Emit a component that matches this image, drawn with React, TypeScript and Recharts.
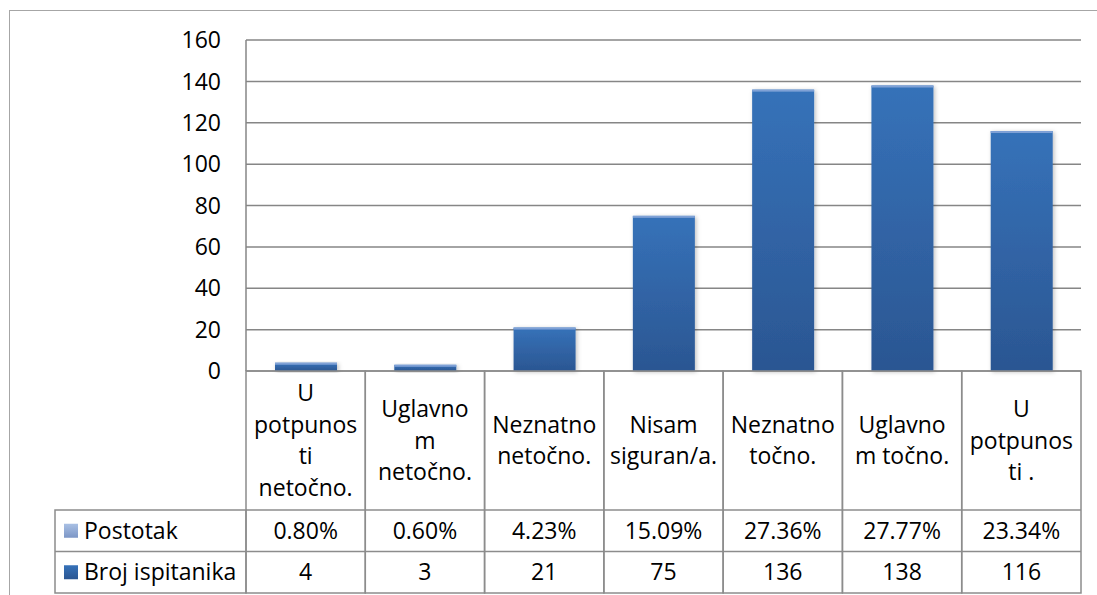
import { BarChart, Bar, XAxis, YAxis, CartesianGrid } from 'recharts'

// category labels, wrapped the way the data table shows them
const categories = [
  'U\npotpunos\nti\nnetočno.',
  'Uglavno\nm\nnetočno.',
  'Neznatno\nnetočno.',
  'Nisam\nsiguran/a.',
  'Neznatno\ntočno.',
  'Uglavno\nm točno.',
  'U\npotpunos\nti .',
]
const postotak = [0.8, 0.6, 4.23, 15.09, 27.36, 27.77, 23.34]
const brojIspitanika = [4, 3, 21, 75, 136, 138, 116]
const yTicks = [0, 20, 40, 60, 80, 100, 120, 140, 160]
const seriesNames = ['Postotak', 'Broj ispitanika']

const W = 1097
const H = 595
const PLOT_LEFT = 246
const PLOT_RIGHT = 1081
const PLOT_TOP = 40
const PLOT_BOTTOM = 371
const TABLE_LEFT = 55
const CAT_ROW_H = 139
const VAL_ROW_H = 41.5
const LINE_GAP = 31.5
const FONT = '"Open Sans", sans-serif'
const FS = 23
const GRID = '#868686'
const TABLE_LINE = '#8c8c8c'

const data = categories.map((name, i) => ({
  name,
  postotak: postotak[i],
  broj: brojIspitanika[i],
}))

function GradientBar(props: any) {
  const { x, y, width, height } = props
  if (!height || height <= 0) return null
  return (
    <g>
      <rect x={x} y={y} width={width} height={height} fill="url(#barFill)" filter="url(#barShadow)" />
      <rect x={x} y={y} width={width} height={Math.min(2, height)} fill="#7fa1d6" />
    </g>
  )
}

function TableTick(props: any) {
  const { x, y, payload, index } = props
  const colW = (PLOT_RIGHT - PLOT_LEFT) / categories.length
  const left = x - colW / 2
  const top = y
  const lines = String(payload.value).split('\n')
  const firstY = top + CAT_ROW_H / 2 - ((lines.length - 1) * LINE_GAP) / 2
  const row1 = top + CAT_ROW_H
  const row2 = row1 + VAL_ROW_H
  const row3 = row2 + VAL_ROW_H
  const textProps = { fontFamily: FONT, fontSize: FS, fill: '#000', dy: '0.35em' }

  return (
    <g>
      <rect x={left} y={top} width={colW} height={row3 - top} fill="none" stroke={TABLE_LINE} strokeWidth={1.5} />
      <line x1={left} x2={left + colW} y1={row1} y2={row1} stroke={TABLE_LINE} strokeWidth={1.5} />
      <line x1={left} x2={left + colW} y1={row2} y2={row2} stroke={TABLE_LINE} strokeWidth={1.5} />
      {lines.map((l, i) => (
        <text key={i} x={x} y={firstY + i * LINE_GAP} textAnchor="middle" {...textProps}>
          {l}
        </text>
      ))}
      <text x={x} y={row1 + VAL_ROW_H / 2} textAnchor="middle" {...textProps}>
        {postotak[index].toFixed(2)}%
      </text>
      <text x={x} y={row2 + VAL_ROW_H / 2} textAnchor="middle" {...textProps}>
        {brojIspitanika[index]}
      </text>
      {index === 0 && (
        <g>
          <rect x={TABLE_LEFT} y={row1} width={left - TABLE_LEFT} height={row3 - row1} fill="none" stroke={TABLE_LINE} strokeWidth={1.5} />
          <line x1={TABLE_LEFT} x2={left} y1={row2} y2={row2} stroke={TABLE_LINE} strokeWidth={1.5} />
          <rect x={64} y={row1 + VAL_ROW_H / 2 - 7} width={14} height={14} fill="url(#swatchLight)" />
          <rect x={64} y={row2 + VAL_ROW_H / 2 - 7} width={14} height={14} fill="url(#barFill)" />
          <text x={84} y={row1 + VAL_ROW_H / 2} textAnchor="start" {...textProps}>
            {seriesNames[0]}
          </text>
          <text x={84} y={row2 + VAL_ROW_H / 2} textAnchor="start" {...textProps}>
            {seriesNames[1]}
          </text>
        </g>
      )}
    </g>
  )
}

export default function App() {
  return (
    <div style={{ position: 'fixed', left: 0, top: 0, width: W, height: H, overflow: 'hidden', background: '#fff' }}>
      <div
        style={{
          position: 'absolute',
          left: 9,
          top: 10,
          width: 1200,
          height: 800,
          border: '1.5px solid #a6a6a6',
          pointerEvents: 'none',
        }}
      />
      <BarChart
        width={W}
        height={H}
        data={data}
        margin={{ top: PLOT_TOP, right: W - PLOT_RIGHT, left: 0, bottom: H - PLOT_BOTTOM - 222 }}
        barSize={62}
      >
        <defs>
          <linearGradient id="barFill" x1="0" y1="0" x2="0" y2="1">
            <stop offset="0%" stopColor="#3672b9" />
            <stop offset="100%" stopColor="#2b5692" />
          </linearGradient>
          <linearGradient id="swatchLight" x1="0" y1="0" x2="0" y2="1">
            <stop offset="0%" stopColor="#a9c0e4" />
            <stop offset="100%" stopColor="#7c96c6" />
          </linearGradient>
          <filter id="barShadow" x="-20%" y="-20%" width="140%" height="140%">
            <feDropShadow dx="1.5" dy="1" stdDeviation="2" floodColor="#000" floodOpacity="0.25" />
          </filter>
        </defs>
        <CartesianGrid vertical={false} stroke={GRID} strokeWidth={1.5} />
        <YAxis
          width={PLOT_LEFT}
          domain={[0, 160]}
          ticks={yTicks}
          interval={0}
          tickLine={false}
          tickSize={0}
          tickMargin={25}
          axisLine={{ stroke: GRID, strokeWidth: 1.5 }}
          tick={{ fontFamily: FONT, fontSize: FS, fill: '#000' }}
        />
        <XAxis
          dataKey="name"
          height={222}
          interval={0}
          tickLine={false}
          tickSize={0}
          tickMargin={0}
          axisLine={false}
          tick={(p: any) => <TableTick {...p} />}
        />
        <Bar dataKey="broj" name={seriesNames[1]} shape={<GradientBar />} isAnimationActive={false} />
      </BarChart>
    </div>
  )
}
